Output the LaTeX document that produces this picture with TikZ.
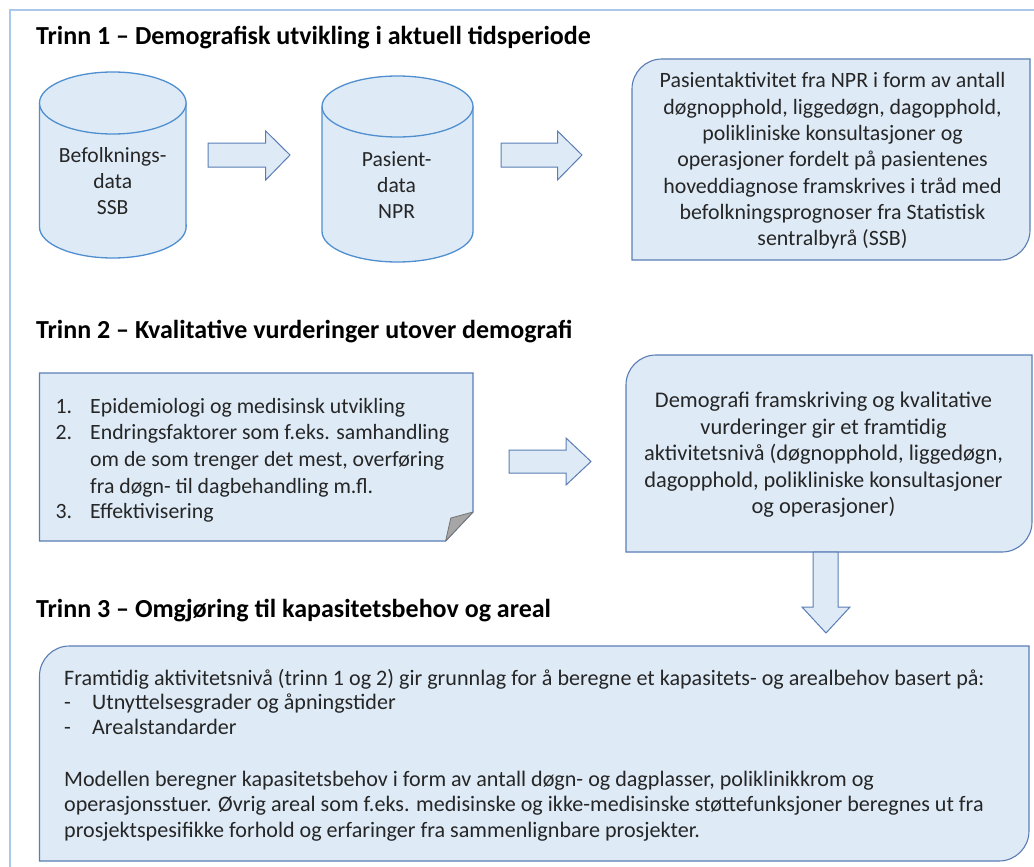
\documentclass[tikz,border=0pt]{standalone}
\usepackage{fontspec}
\setmainfont{Carlito}
\usetikzlibrary{calc}
\definecolor{boxfill}{HTML}{DEEBF7}
\definecolor{boxline}{HTML}{5B7DB5}
\definecolor{cylline}{HTML}{4F8FD0}
\definecolor{frameline}{HTML}{A9C8EA}
\definecolor{foldfill}{HTML}{A6A6A6}
\definecolor{txt}{HTML}{262626}
\tikzset{
  shapebox/.style={fill=boxfill, draw=boxline, line width=1.1pt},
  cyl/.style={fill=boxfill, draw=cylline, line width=1.3pt},
  blockarrow/.style={fill=boxfill, draw=boxline, line width=1pt, line join=miter},
  title/.style={anchor=base west, inner sep=0pt, font=\fontsize{26}{30}\selectfont\bfseries, text=black},
  cyltext/.style={inner sep=0pt, font=\fontsize{21.6}{26}\selectfont, text=txt, align=center},
  bodyA/.style={inner sep=0pt, font=\fontsize{21.9}{26.3}\selectfont, text=txt, align=center},
  bodyB/.style={inner sep=0pt, font=\fontsize{22.4}{26.5}\selectfont, text=txt, align=center},
  line/.style={anchor=base west, inner sep=0pt, font=\fontsize{21.8}{26}\selectfont, text=txt},
  small/.style={anchor=base west, inner sep=0pt, font=\fontsize{22.1}{26}\selectfont, text=txt}
}
\begin{document}
\begin{tikzpicture}[x=1pt,y=-1pt]
\useasboundingbox (0,0) rectangle (1034,867);
\fill[white] (0,0) rectangle (1034,867);
% outer frame
\draw[frameline, line width=1.5pt] (10,867) -- (10,10) -- (1034,10);

% ---------- Trinn 1
\node[title] (t1) at (36,45) {Trinn 1 – Demografisk utvikling i aktuell tidsperiode};

% cylinder 1
\fill[boxfill] (39.5,103) -- (39.5,227) arc[start angle=180, end angle=0, x radius=73.3, y radius=31] -- (186,103) -- cycle;
\draw[cyl, fill=none] (39.5,103) -- (39.5,227) arc[start angle=180, end angle=0, x radius=73.3, y radius=31] -- (186,103);
\draw[cyl] (112.8,103) ellipse[x radius=73.3, y radius=31];
\node[cyltext] (c1) at (112.7,181) {Befolknings-\\data\\SSB};

% cylinder 2
\fill[boxfill] (322,106.5) -- (322,231.5) arc[start angle=180, end angle=0, x radius=75.5, y radius=30.5] -- (473,106.5) -- cycle;
\draw[cyl, fill=none] (322,106.5) -- (322,231.5) arc[start angle=180, end angle=0, x radius=75.5, y radius=30.5] -- (473,106.5);
\draw[cyl] (397.5,106.5) ellipse[x radius=75.5, y radius=30.5];
\node[cyltext] (c2) at (396.6,185) {Pasient-\\data\\NPR};

% block arrows trinn 1
\draw[blockarrow] (208,143) -- (265.7,143) -- (265.7,131) -- (290,155) -- (265.7,180) -- (265.7,167) -- (208,167) -- cycle;
\draw[blockarrow] (501,143) -- (557.5,143) -- (557.5,131) -- (582,155) -- (557.5,180) -- (557.5,167) -- (501,167) -- cycle;

% box 1
\draw[shapebox] (632,260) -- (632,89) arc[start angle=180, end angle=270, radius=30] -- (1030,59) -- (1030,230) arc[start angle=0, end angle=90, radius=30] -- cycle;
\node[bodyA] (b1) at (832.5,161) {Pasientaktivitet fra NPR i form av antall\\døgnopphold, liggedøgn, dagopphold,\\polikliniske konsultasjoner og\\operasjoner fordelt på pasientenes\\hoveddiagnose framskrives i tråd med\\befolkningsprognoser fra Statistisk\\sentralbyrå (SSB)};

% ---------- Trinn 2
\node[title] (t2) at (36,338) {Trinn 2 – Kvalitative vurderinger utover demografi};

% note box
\draw[shapebox, line join=miter] (39.5,373) -- (473,373) -- (473,512) -- (445.6,541) -- (39.5,541) -- cycle;
\draw[foldfill!70!black, fill=foldfill, line width=0.8pt, line join=round] (473,512) -- (450.8,518) -- (445.6,541) -- cycle;
\node[line] (n1a) at (55.4,413) {1.};
\node[line] (n1b) at (90,413) {Epidemiologi og medisinsk utvikling};
\node[line] (n2a) at (55.4,439) {2.};
\node[line] (n2b) at (90,439) {Endringsfaktorer som f.eks. samhandling};
\node[line] (n2c) at (90,466) {om de som trenger det mest, overføring};
\node[line] (n2d) at (90,493) {fra døgn- til dagbehandling m.fl.};
\node[line] (n3a) at (55.4,518) {3.};
\node[line] (n3b) at (90,518) {Effektivisering};

% arrow trinn 2
\draw[blockarrow] (509,450) -- (566,450) -- (566,438) -- (591,461.5) -- (566,485) -- (566,473) -- (509,473) -- cycle;

% box 2
\draw[shapebox] (626,552) -- (626,385) arc[start angle=180, end angle=270, radius=30] -- (1032,355) -- (1032,522) arc[start angle=0, end angle=90, radius=30] -- cycle;
\node[bodyB] (b2) at (823.5,455) {Demografi framskriving og kvalitative\\vurderinger gir et framtidig\\aktivitetsnivå (døgnopphold, liggedøgn,\\dagopphold, polikliniske konsultasjoner\\og operasjoner)};

% down arrow
\draw[blockarrow] (813,552) -- (838,552) -- (838,607) -- (850,607) -- (826,633) -- (802,607) -- (813,607) -- cycle;

% ---------- Trinn 3
\node[title] (t3) at (36,617) {Trinn 3 – Omgjøring til kapasitetsbehov og areal};

% box 3
\draw[shapebox] (39.5,861) -- (39.5,676) arc[start angle=180, end angle=270, radius=30] -- (1029,646) -- (1029,831) arc[start angle=0, end angle=90, radius=30] -- cycle;
\node[small] (l1) at (64,685) {Framtidig aktivitetsnivå (trinn 1 og 2) gir grunnlag for å beregne et kapasitets- og arealbehov basert på:};
\node[small] (l2a) at (64,709) {-};
\node[small] (l2b) at (92,709) {Utnyttelsesgrader og åpningstider};
\node[small] (l3a) at (64,734) {-};
\node[small] (l3b) at (92,734) {Arealstandarder};
\node[small] (l4) at (64,786) {Modellen beregner kapasitetsbehov i form av antall døgn- og dagplasser, poliklinikkrom og};
\node[small] (l5) at (64,811) {operasjonsstuer. Øvrig areal som f.eks. medisinske og ikke-medisinske støttefunksjoner beregnes ut fra};
\node[small] (l6) at (64,837) {prosjektspesifikke forhold og erfaringer fra sammenlignbare prosjekter.};
\end{tikzpicture}
\end{document}
